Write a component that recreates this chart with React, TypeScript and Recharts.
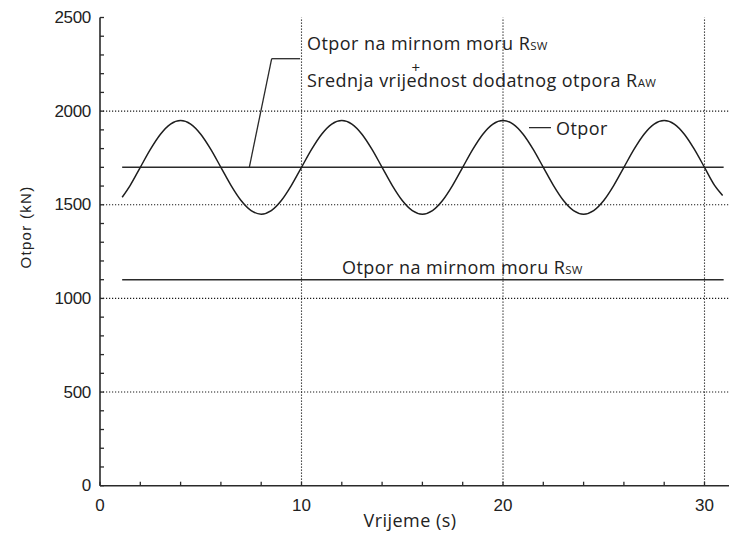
import React from 'react';
import { LineChart, Line, XAxis, YAxis, ReferenceLine, ReferenceDot } from 'recharts';

// Time (s)
const vrijeme = [
  1.1, 1.5, 2, 2.5, 3, 3.5, 4, 4.5, 5, 5.5, 6, 6.5, 7, 7.5, 8, 8.5, 9, 9.5,
  10, 10.5, 11, 11.5, 12, 12.5, 13, 13.5, 14, 14.5, 15, 15.5, 16, 16.5, 17, 17.5,
  18, 18.5, 19, 19.5, 20, 20.5, 21, 21.5, 22, 22.5, 23, 23.5, 24, 24.5, 25, 25.5,
  26, 26.5, 27, 27.5, 28, 28.5, 29, 29.5, 30, 30.5, 30.9,
];
// Resistance (kN)
const otpor = [
  1540, 1604, 1700, 1796, 1877, 1931, 1950, 1931, 1877, 1796, 1700, 1604, 1523, 1469, 1450, 1469, 1523, 1604,
  1700, 1796, 1877, 1931, 1950, 1931, 1877, 1796, 1700, 1604, 1523, 1469, 1450, 1469, 1523, 1604,
  1700, 1796, 1877, 1931, 1950, 1931, 1877, 1796, 1700, 1604, 1523, 1469, 1450, 1469, 1523, 1604,
  1700, 1796, 1877, 1931, 1950, 1931, 1877, 1796, 1700, 1604, 1550,
];

const xTicks = [0, 2, 4, 6, 8, 10, 12, 14, 16, 18, 20, 22, 24, 26, 28, 30, 32];
const xLabelTicks = [0, 10, 20, 30];
const yTicks = [
  0, 100, 200, 300, 400, 500, 600, 700, 800, 900, 1000, 1100, 1200, 1300, 1400, 1500,
  1600, 1700, 1800, 1900, 2000, 2100, 2200, 2300, 2400, 2500,
];
const yLabelTicks = [0, 500, 1000, 1500, 2000, 2500];
const gridX = [10, 20, 30];
const gridY = [500, 1000, 1500, 2000];

// constant resistance levels
const srednjiOtpor = 1700; // R_SW + mean R_AW
const mirnoMoreOtpor = 1100; // R_SW
const levelStart = 1.1;
const levelEnd = 30.95;

// leader line from the mean line to its annotation
const leaderX = [7.41, 8.52, 9.93];
const leaderY = [1700, 2280, 2280];
// short legend stroke next to "Otpor"
const legendX = [21.29, 22.38];
const legendY = [1912, 1912];

// three-line annotation of the mean line
const meanLines = ['Otpor na mirnom moru R', '+', 'Srednja vrijednost dodatnog otpora R'];
const meanSmall = ['SW', '', 'AW'];
const meanAnchor = { x: 10.27, y: 2324 };

// single-line annotations
const annotText = ['Otpor', 'Otpor na mirnom moru R'];
const annotSmall = ['', 'SW'];
const annotX = [22.63, 12.01];
const annotY = [1873, 1130];

const chartData = vrijeme.map((t, i) => ({ t, otpor: otpor[i] }));

const AX = '#2a2a2a';
const TXT = '#222';
const tickFont = '"Liberation Sans", Arial, sans-serif';
const annFont = '"Open Sans", sans-serif';
const annSize = 18;
const annSpacing = 0.45;

const XTick = (props: any) => {
  const { x, y, payload } = props;
  const v = payload.value;
  return (
    <g>
      <line x1={x} x2={x} y1={y} y2={y - 4} stroke={AX} strokeWidth={1.3} />
      {xLabelTicks.includes(v) && (
        <text x={x} y={y + 25} textAnchor="middle" fontFamily={tickFont} fontSize={17} fill={TXT}>
          {v}
        </text>
      )}
    </g>
  );
};

const TopTick = (props: any) => {
  const { x, y } = props;
  return <line x1={x} x2={x} y1={y} y2={y + 4} stroke={AX} strokeWidth={1.3} />;
};

const YTick = (props: any) => {
  const { x, y, payload } = props;
  const v = payload.value;
  return (
    <g>
      <line x1={x} x2={x + 4} y1={y} y2={y} stroke={AX} strokeWidth={1.3} />
      {yLabelTicks.includes(v) && (
        <text x={x - 9} y={y + 5.5} textAnchor="end" fontFamily={tickFont} fontSize={17} fill={TXT} letterSpacing={-0.3}>
          {v}
        </text>
      )}
    </g>
  );
};

const makeAnnot = (main: string, small: string) => (p: any) => {
  const vb = p.viewBox || {};
  return (
    <text x={vb.x} y={vb.y} fontFamily={annFont} fontSize={annSize} letterSpacing={annSpacing} fill={TXT}>
      {main}
      {small && <tspan fontSize={11.5} letterSpacing={0.2}>{small}</tspan>}
    </text>
  );
};

const meanAnnot = (p: any) => {
  const vb = p.viewBox || {};
  const x0 = vb.x;
  const y0 = vb.y;
  return (
    <text x={x0} y={y0} fontFamily={annFont} fontSize={annSize} letterSpacing={annSpacing} fill={TXT}>
      <tspan x={x0} y={y0}>{meanLines[0]}</tspan>
      <tspan fontSize={11.5} letterSpacing={0.2}>{meanSmall[0]}</tspan>
      <tspan x={x0 + 104.5} y={y0 + 22.5} fontSize={15} letterSpacing={0}>{meanLines[1]}</tspan>
      <tspan x={x0} y={y0 + 36.8}>{meanLines[2]}</tspan>
      <tspan fontSize={11.5} letterSpacing={0.2}>{meanSmall[2]}</tspan>
    </text>
  );
};

export default function App() {
  return (
    <div style={{ marginLeft: -8, marginTop: -8, width: 737, height: 533, overflow: 'hidden', position: 'relative', background: '#fff' }}>
      <LineChart
        width={760}
        height={533}
        data={chartData}
        margin={{ top: 17.5, right: 15.2, bottom: 17.3, left: 40 }}
      >
        <XAxis
          dataKey="t"
          type="number"
          domain={[0, 32]}
          ticks={xTicks}
          interval={0}
          allowDataOverflow
          tickSize={0}
          tickMargin={0}
          tickLine={false}
          tick={<XTick />}
          height={30}
          axisLine={{ stroke: AX, strokeWidth: 1.6 }}
          label={() => (
            <text x={410} y={527} textAnchor="middle" fontFamily={annFont} fontSize={annSize} letterSpacing={annSpacing} fill={TXT}>
              Vrijeme (s)
            </text>
          )}
        />
        <XAxis
          xAxisId="top"
          orientation="top"
          type="number"
          domain={[0, 32]}
          ticks={xTicks}
          interval={0}
          allowDataOverflow
          tickSize={0}
          tickMargin={0}
          tickLine={false}
          tick={<TopTick />}
          height={0}
          axisLine={{ stroke: AX, strokeWidth: 1.6 }}
        />
        <YAxis
          type="number"
          domain={[0, 2500]}
          ticks={yTicks}
          interval={0}
          allowDataOverflow
          tickSize={0}
          tickMargin={0}
          tickLine={false}
          tick={<YTick />}
          width={60}
          axisLine={{ stroke: AX, strokeWidth: 1.6 }}
          label={() => (
            <text
              x={25}
              y={227}
              transform="rotate(-90 25 227)"
              textAnchor="middle"
              fontFamily={tickFont}
              fontSize={15}
              letterSpacing={1.3}
              fill={TXT}
              dominantBaseline="central"
            >
              Otpor (kN)
            </text>
          )}
        />
        {gridY.map((v) => (
          <ReferenceLine key={'gy' + v} y={v} stroke="#1a1a1a" strokeWidth={1.1} strokeDasharray="1.2 1.8" />
        ))}
        {gridX.map((v) => (
          <ReferenceLine key={'gx' + v} x={v} stroke="#1a1a1a" strokeWidth={1.1} strokeDasharray="1.2 1.8" />
        ))}
        <ReferenceLine
          segment={[{ x: levelStart, y: srednjiOtpor }, { x: levelEnd, y: srednjiOtpor }]}
          stroke="#2a2a2a"
          strokeWidth={1.6}
        />
        <ReferenceLine
          segment={[{ x: levelStart, y: mirnoMoreOtpor }, { x: levelEnd, y: mirnoMoreOtpor }]}
          stroke="#2a2a2a"
          strokeWidth={1.6}
        />
        <ReferenceLine
          segment={[{ x: leaderX[0], y: leaderY[0] }, { x: leaderX[1], y: leaderY[1] }]}
          stroke="#2a2a2a"
          strokeWidth={1.3}
        />
        <ReferenceLine
          segment={[{ x: leaderX[1], y: leaderY[1] }, { x: leaderX[2], y: leaderY[2] }]}
          stroke="#2a2a2a"
          strokeWidth={1.3}
        />
        <ReferenceLine
          segment={[{ x: legendX[0], y: legendY[0] }, { x: legendX[1], y: legendY[1] }]}
          stroke="#2a2a2a"
          strokeWidth={1.3}
        />
        <Line
          dataKey="otpor"
          type="monotone"
          stroke="#1e1e1e"
          strokeWidth={1.5}
          dot={false}
          activeDot={false}
          isAnimationActive={false}
        />
        <ReferenceDot x={meanAnchor.x} y={meanAnchor.y} r={0} fill="none" stroke="none" label={meanAnnot} />
        {annotText.map((txt, i) => (
          <ReferenceDot
            key={'a' + i}
            x={annotX[i]}
            y={annotY[i]}
            r={0}
            fill="none"
            stroke="none"
            label={makeAnnot(txt, annotSmall[i])}
          />
        ))}
      </LineChart>
    </div>
  );
}
